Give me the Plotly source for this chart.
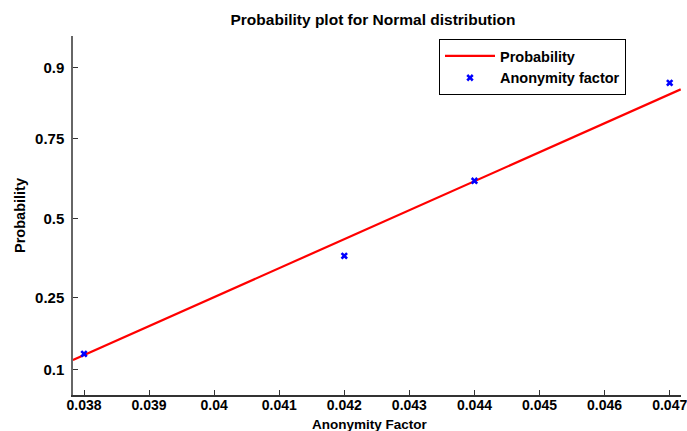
import math
import plotly.graph_objects as go

# ---- data ----
anonymity = [0.038, 0.042, 0.044, 0.047]
plot_prob = [0.125, 0.375, 0.625, 0.875]
line_x = [0.03783, 0.04717]
line_prob = [0.1145, 0.8633]
tick_probs = [0.1, 0.25, 0.5, 0.75, 0.9]
tick_labels = ["0.1", "0.25", "0.5", "0.75", "0.9"]
x_ticks = [0.038, 0.039, 0.04, 0.041, 0.042, 0.043, 0.044, 0.045, 0.046, 0.047]
x_labels = ["0.038", "0.039", "0.04", "0.041", "0.042", "0.043", "0.044", "0.045", "0.046", "0.047"]


def norm_ppf(p):
    lo, hi = -10.0, 10.0
    for _ in range(200):
        mid = (lo + hi) / 2
        if 0.5 * (1 + math.erf(mid / math.sqrt(2))) < p:
            lo = mid
        else:
            hi = mid
    return (lo + hi) / 2


W, H = 687, 431
L, R, T, B = 73, 681, 36, 395

fig = go.Figure()
fig.add_trace(go.Scatter(
    x=line_x, y=[norm_ppf(p) for p in line_prob], mode="lines",
    line=dict(color="#ff0000", width=2.2), name="Probability"))
fig.add_trace(go.Scatter(
    x=anonymity, y=[norm_ppf(p) for p in plot_prob], mode="markers",
    marker=dict(symbol="x", color="#0000ff", size=6.5, line=dict(width=0)),
    name="Anonymity factor"))

font = dict(family="Liberation Sans, Arial, sans-serif", color="black", weight="bold")

fig.update_layout(
    width=W, height=H,
    margin=dict(l=L, r=W - R, t=T, b=H - B, pad=0, autoexpand=False),
    paper_bgcolor="white", plot_bgcolor="white",
    font=dict(**font, size=15),
    title=dict(text="Probability plot for Normal distribution", x=373 / W, xanchor="center",
               y=1 - 20 / H, yanchor="middle", font=dict(**font, size=15.5)),
    showlegend=True,
    legend=dict(x=(439 - L) / (R - L), y=(B - 39) / (B - T), xanchor="left", yanchor="top",
                bordercolor="black", borderwidth=1, bgcolor="white",
                font=dict(**font, size=14.5), tracegroupgap=0, itemwidth=50),
    xaxis=dict(range=[0.037831, 0.047174], tickvals=x_ticks, ticktext=x_labels,
               showgrid=False, zeroline=False, showline=True, linecolor="#333", linewidth=1.5,
               ticks="inside", ticklen=5, tickcolor="#333", tickfont=dict(**font, size=14),
               ticklabeloverflow="allow", automargin=False, ticklabelstandoff=-4),
    yaxis=dict(range=[-1.500, 1.548], tickvals=[norm_ppf(p) for p in tick_probs], ticktext=tick_labels,
               showgrid=False, zeroline=False, showline=True, linecolor="#666", linewidth=1.5,
               ticks="inside", ticklen=5, tickcolor="#333", tickfont=dict(**font, size=15),
               ticklabelstandoff=4, ticklabeloverflow="allow", automargin=False,
               title=dict(text="Probability", font=dict(**font, size=14.5), standoff=6)),
    annotations=[dict(text="Anonymity Factor", xref="paper", yref="paper",
                      x=(370 - L) / (R - L), y=-(H + 3 - B) / (B - T), xanchor="center", yanchor="bottom",
                      showarrow=False, font=dict(**font, size=13.5))],
)

fig.write_html("out.html")
